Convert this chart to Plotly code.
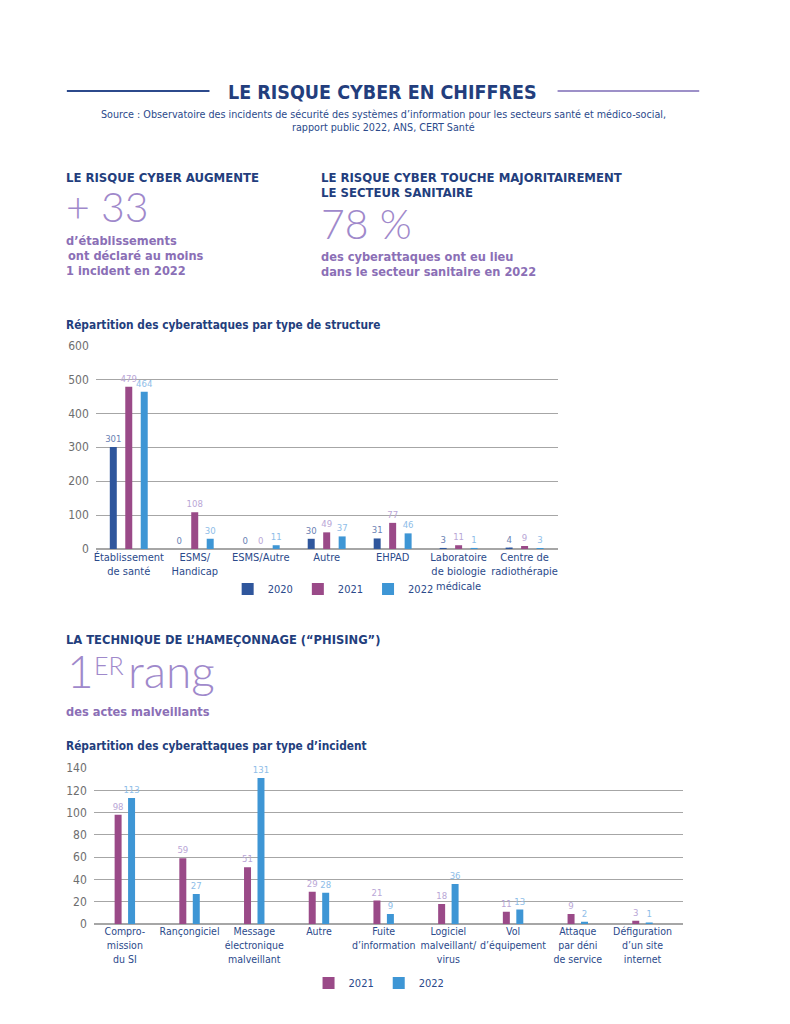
import plotly.graph_objects as go

# page is 790x1024; browser body keeps its default 8px margin
PAGE_W, PAGE_H = 790, 1024
OX, OY = 8, 8
FW, FH = PAGE_W - 2 * OX, PAGE_H - 2 * OY

# ---------------- data ----------------
structures = ["Établissement<br>de santé", "ESMS/<br>Handicap", "ESMS/Autre", "Autre", "EHPAD",
              "Laboratoire<br>de biologie<br>médicale", "Centre de<br>radiothérapie"]
struct_2020 = [301, 0, 0, 30, 31, 3, 4]
struct_2021 = [479, 108, 0, 49, 77, 11, 9]
struct_2022 = [464, 30, 11, 37, 46, 1, 3]
struct_ticks = [0, 100, 200, 300, 400, 500, 600]

incidents = ["Compro-<br>mission<br>du SI", "Rançongiciel", "Message<br>électronique<br>malveillant",
             "Autre", "Fuite<br>d’information", "Logiciel<br>malveillant/<br>virus",
             "Vol<br>d’équipement", "Attaque<br>par déni<br>de service",
             "Défiguration<br>d’un site<br>internet"]
inc_2021 = [98, 59, 51, 29, 21, 18, 11, 9, 3]
inc_2022 = [113, 27, 131, 28, 9, 36, 13, 2, 1]
inc_ticks = [0, 20, 40, 60, 80, 100, 120, 140]

# ---------------- style ----------------
FONT = "Liberation Sans Narrow, DejaVu Sans Condensed, Roboto, sans-serif"
THIN = "Lato, Inter, sans-serif"
NAVY = "#233e7d"
TICKNAVY = "#2b4a8b"
PURPLE_TXT = "#8b6fb6"
PURPLE_BIG = "#9f89cb"
C2020, C2021, C2022 = "#2f569c", "#9a4a88", "#3e96d5"
L2020, L2021, L2022 = "#6a7fb3", "#b9a6d6", "#8ebde8"
GRID = "#a6a6a6"
GRAYTXT = "#6e6e6e"


def px(x):
    return (x - OX) / FW


def py(y):
    y = (y - 6.2) / 0.987  # vertical calibration
    return 1 - (y - OY) / FH


fig = go.Figure()


def bars(x, y, name, color, lcolor, xa, ya, width, offset, legend):
    fig.add_trace(go.Bar(
        x=x, y=y, name=name, marker_color=color, marker_line_width=0,
        width=width, offset=offset,
        texttemplate="%{y}", textposition="outside", constraintext="none",
        textfont=dict(family=FONT, size=9.5, color=lcolor),
        cliponaxis=False, xaxis=xa, yaxis=ya, legend=legend,
    ))


# chart 1 (7 categories ~66px each; bars 7px wide, 15.5px apart)
bw1 = 0.106
bars(structures, struct_2020, "2020", C2020, L2020, "x", "y", bw1, -0.2345 - bw1 / 2, "legend")
bars(structures, struct_2021, "2021", C2021, L2021, "x", "y", bw1, -bw1 / 2, "legend")
bars(structures, struct_2022, "2022", C2022, L2022, "x", "y", bw1, 0.2345 - bw1 / 2, "legend")

# chart 2
bw2 = 0.108
bars(incidents, inc_2021, "2021", C2021, L2021, "x2", "y2", bw2, -0.104 - bw2 / 2, "legend2")
bars(incidents, inc_2022, "2022", C2022, L2022, "x2", "y2", bw2, 0.104 - bw2 / 2, "legend2")

yax_common = dict(
    showgrid=True, gridcolor=GRID, gridwidth=1.3,
    zeroline=True, zerolinecolor=GRID, zerolinewidth=1.5,
    showline=False, ticks="", ticklabelstandoff=6,
    tickfont=dict(family=FONT, size=12, color=GRAYTXT), fixedrange=True,
)
xax_common = dict(
    type="category", showgrid=False, showline=False, ticks="", zeroline=False,
    fixedrange=True, tickangle=0,
)

legend_common = dict(
    orientation="h", xanchor="center", yanchor="middle",
    font=dict(family=FONT, size=11, color=TICKNAVY),
    bgcolor="rgba(0,0,0,0)", itemwidth=30, traceorder="normal",
)

fig.update_layout(
    width=FW, height=FH, margin=dict(l=0, r=0, t=0, b=0),
    paper_bgcolor="white", plot_bgcolor="white",
    barmode="overlay", showlegend=True,
    xaxis=dict(domain=[px(94), px(557)], range=[-0.5, 6.5], anchor="y",
               tickfont=dict(family=FONT, size=11, color=TICKNAVY), **xax_common),
    yaxis=dict(domain=[py(549), py(345)], range=[0, 602], tickvals=struct_ticks, anchor="x", **yax_common),
    xaxis2=dict(domain=[px(92), px(683)], range=[-0.48, 8.63], anchor="y2",
                tickfont=dict(family=FONT, size=10.5, color=TICKNAVY), **xax_common),
    yaxis2=dict(domain=[py(924), py(767.5)], range=[0, 140.5], tickvals=inc_ticks, anchor="x2", **yax_common),
    legend=dict(x=px(332), y=py(589), **legend_common),
    legend2=dict(x=px(378), y=py(983), **legend_common),
)

ann = []


def txt(x, y, s, size, color, family=FONT, bold=False, anchor="left", weight=None):
    f = dict(family=family, size=size, color=color)
    if weight is not None:
        f["weight"] = weight
    elif bold:
        f["weight"] = "bold"
    ann.append(dict(x=px(x), y=py(y), xref="paper", yref="paper", text=s, showarrow=False,
                    xanchor=anchor, yanchor="middle", font=f, align=anchor))


# header
txt(381, 93, "LE RISQUE CYBER EN CHIFFRES", 19.5, NAVY, bold=True, anchor="center")
txt(382, 114.5, "Source : Observatoire des incidents de sécurité des systèmes d’information pour les secteurs santé et médico-social,",
    10.7, TICKNAVY, anchor="center")
txt(382, 128, "rapport public 2022, ANS, CERT Santé", 10.7, TICKNAVY, anchor="center")

# left KPI
txt(62, 177.5, "LE RISQUE CYBER AUGMENTE", 13, NAVY, bold=True)
txt(62, 207, "+ 33", 41, PURPLE_BIG, family=THIN, weight=300)
txt(62, 241, "d’établissements", 12.7, PURPLE_TXT, bold=True)
txt(64, 256, "ont déclaré au moins", 12.7, PURPLE_TXT, bold=True)
txt(62, 271, "1 incident en 2022", 12.7, PURPLE_TXT, bold=True)

# right KPI
txt(318, 177.5, "LE RISQUE CYBER TOUCHE MAJORITAIREMENT", 13, NAVY, bold=True)
txt(318, 192.5, "LE SECTEUR SANITAIRE", 13, NAVY, bold=True)
txt(318, 224, "78 %", 41, PURPLE_BIG, family=THIN, weight=300)
txt(318, 257, "des cyberattaques ont eu lieu", 12.7, PURPLE_TXT, bold=True)
txt(318, 272, "dans le secteur sanitaire en 2022", 12.7, PURPLE_TXT, bold=True)

# chart 1 title
txt(62, 325, "Répartition des cyberattaques par type de structure", 11.8, NAVY, bold=True)

# section 3
txt(62, 640, "LA TECHNIQUE DE L’HAMEÇONNAGE (“PHISING”)", 12.8, NAVY, bold=True)
txt(63, 671, "1", 46, PURPLE_BIG, family=THIN, weight=300)
txt(90, 665, "ER", 25, PURPLE_BIG, family=THIN, weight=300)
txt(124, 671, "rang", 46, PURPLE_BIG, family=THIN, weight=300)
txt(62, 712, "des actes malveillants", 12.7, PURPLE_TXT, bold=True)

# chart 2 title
txt(62, 746, "Répartition des cyberattaques par type d’incident", 11.8, NAVY, bold=True)

fig.update_layout(annotations=ann)

fig.update_layout(shapes=[
    dict(type="line", xref="paper", yref="paper", x0=px(65), x1=px(208), y0=py(91), y1=py(91),
         line=dict(color="#2c4a8c", width=2)),
    dict(type="line", xref="paper", yref="paper", x0=px(557), x1=px(699), y0=py(91), y1=py(91),
         line=dict(color="#9d90c8", width=2)),
])

fig.write_html("out.html", config={"displayModeBar": False})
